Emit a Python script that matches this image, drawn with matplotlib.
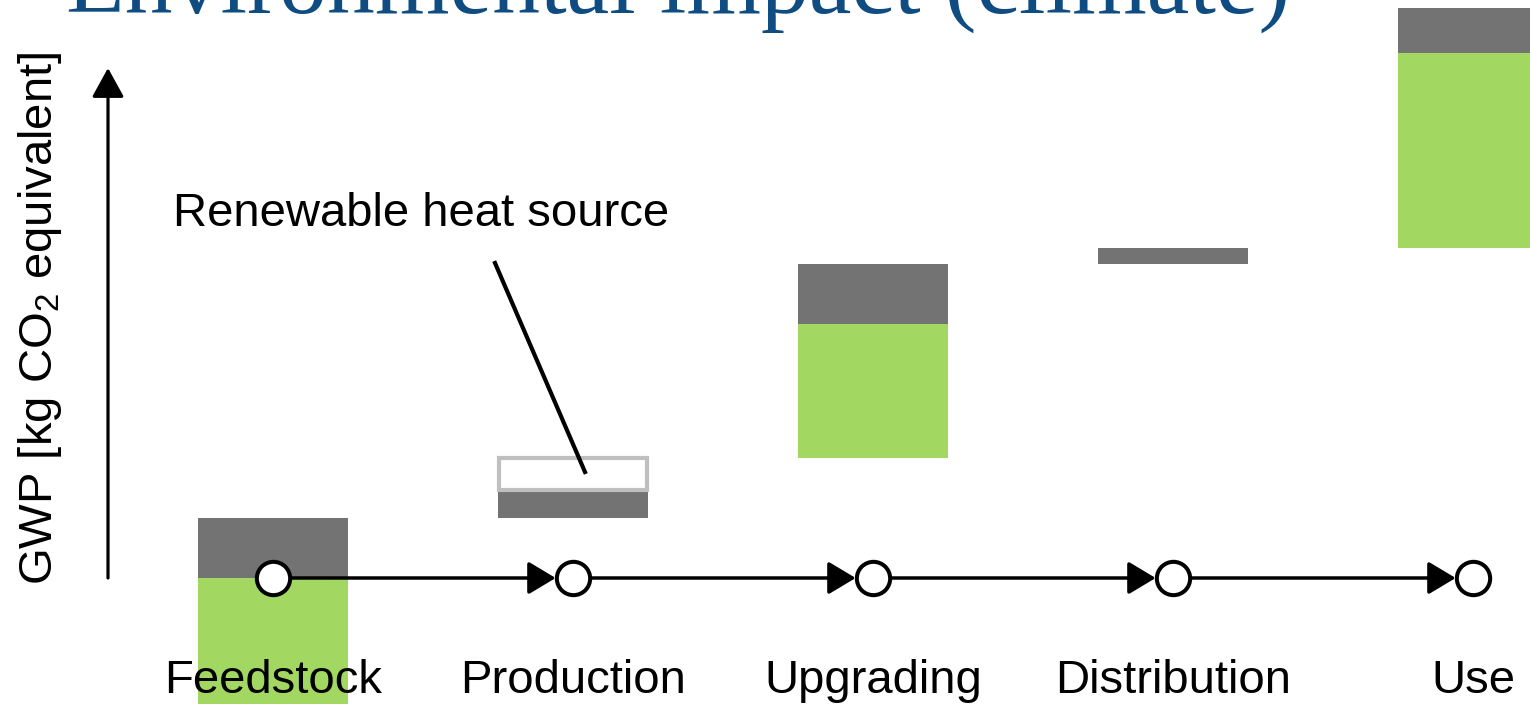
import numpy as np
import matplotlib
matplotlib.use("Agg")
import matplotlib.pyplot as plt

plt.rcParams['font.family'] = ['Liberation Sans', 'DejaVu Sans']
plt.rcParams['mathtext.fontset'] = 'custom'
plt.rcParams['mathtext.rm'] = 'Liberation Sans'
plt.rcParams['mathtext.default'] = 'rm'

# GWP contributions per life-cycle stage (arbitrary units)
stages = ["Feedstock", "Production", "Upgrading", "Distribution", "Use"]
biogenic = np.array([-14.0, 0.0, 13.4, 0.0, 19.5])   # green
fossil = np.array([6.0, 2.8, 6.0, 1.6, 4.5])         # dark grey
renewable = np.array([0.0, 3.2, 0.0, 0.0, 0.0])      # outlined white box

GREEN = "#a2d862"
GREY = "#737373"
BLUE = "#0f4c81"

x = np.arange(len(stages))
step = np.clip(biogenic, 0, None) + fossil + renewable
base = np.concatenate([[0.0], np.cumsum(step)[:-1]])
grey_bottom = base + np.clip(biogenic, 0, None)
white_bottom = grey_bottom + fossil

fig = plt.figure(figsize=(15.3, 7.04), dpi=100)
ax = fig.add_axes([0, 0, 1, 1])
ax.set_xlim(-0.91, 4.19)
ax.set_ylim(-12.6, 57.8)
ax.axis('off')

w = 0.5
ax.bar(x, biogenic, w, bottom=base, color=GREEN, zorder=1)
ax.bar(x, fossil, w, bottom=grey_bottom, color=GREY, zorder=1)
mask = renewable > 0
ax.bar(x[mask], renewable[mask], w * 0.985, bottom=white_bottom[mask],
       color="white", edgecolor="#bfbfbf", linewidth=3, zorder=1)

# process chain along the zero line
for i in range(len(stages) - 1):
    ax.annotate("", xy=(x[i + 1], 0), xytext=(x[i], 0),
                arrowprops=dict(arrowstyle="-|>,head_length=0.4,head_width=0.24",
                                color="black", lw=2.5, mutation_scale=42,
                                shrinkA=0, shrinkB=12.5), zorder=3)
ax.plot(x, np.zeros(len(x)), 'o', ms=24, mfc="white", mec="black", mew=2.9, zorder=4)

for xi, name in zip(x, stages):
    ax.text(xi, -11.5, name, ha="center", va="baseline", fontsize=34, zorder=5)

# y axis arrow and label
ax.annotate("", xy=(-0.55, 51.0), xytext=(-0.55, 0),
            arrowprops=dict(arrowstyle="-|>,head_length=0.4,head_width=0.22",
                            color="black", lw=2.3, mutation_scale=45,
                            shrinkA=0, shrinkB=0))
ax.text(-0.775, 26.0, "GWP [kg CO$_2$ equivalent]", rotation=90,
        ha="center", va="center", fontsize=34)

# callout for the renewable heat box
ax.text(0.495, 35.2, "Renewable heat source", ha="center", va="baseline", fontsize=34)
ax.plot([0.74, 1.04], [31.5, 10.6], color="black", lw=3, zorder=2)

fig.text(66 / 1530, 1 - 13 / 704, "Environmental impact (climate)",
         family="Liberation Serif", fontsize=69, color=BLUE,
         ha="left", va="baseline")

fig.savefig("out.png", dpi=100)
